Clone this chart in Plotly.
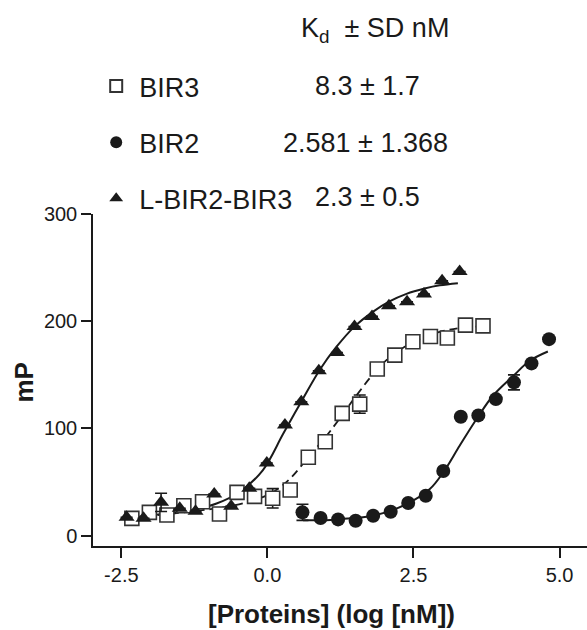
import plotly.graph_objects as go

# ---------------- data ----------------
series_names = ["BIR3", "BIR2", "L-BIR2-BIR3"]
kd_header = "K<sub>d</sub>\u00a0 ± SD nM"
kd_labels = ["8.3 ± 1.7", "2.581 ± 1.368", "2.3 ± 0.5"]

# BIR3 (open squares)
bir3_x = [-2.32, -2.02, -1.72, -1.43, -1.11, -0.82, -0.52, -0.22, 0.09, 0.39,
          0.70, 0.99, 1.28, 1.58, 1.88, 2.18, 2.49, 2.79, 3.08, 3.39, 3.69]
bir3_y = [16.2, 21.8, 19.3, 28.0, 31.7, 20.2, 40.4, 36.7, 34.9, 42.6,
          73.1, 87.6, 114.1, 122.7, 155.4, 168.4, 180.8, 185.8, 184.3, 196.4, 195.7]
bir3_err = [0, 0, 0, 0, 0, 0, 0, 0, 9, 0,
            0, 0, 0, 8.5, 0, 0, 0, 0, 0, 0, 0]

# BIR2 (filled circles)
bir2_x = [0.60, 0.91, 1.21, 1.51, 1.81, 2.11, 2.41, 2.71, 3.01, 3.31,
          3.61, 3.91, 4.22, 4.52, 4.82]
bir2_y = [21.8, 16.5, 15.2, 14.0, 18.6, 22.4, 30.5, 37.3, 60.3, 110.9,
          112.2, 127.4, 143.0, 160.7, 183.3]
bir2_err = [7.5, 0, 0, 0, 0, 0, 0, 0, 0, 0, 0, 0, 7, 0, 0]

# L-BIR2-BIR3 (filled triangles)
lbir_x = [-2.41, -2.12, -1.82, -1.50, -1.23, -0.91, -0.62, -0.31, -0.01, 0.30,
          0.58, 0.88, 1.19, 1.49, 1.79, 2.08, 2.39, 2.68, 2.99, 3.29]
lbir_y = [17.1, 16.2, 31.1, 25.5, 22.7, 38.9, 27.4, 44.2, 67.8, 103.2,
          124.9, 153.8, 170.9, 195.1, 204.5, 214.4, 218.1, 225.3, 237.7, 246.4]
lbir_err = [0, 0, 8.5, 0, 0, 0, 0, 0, 0, 0,
            0, 0, 0, 0, 0, 0, 0, 0, 0, 0]

# fitted curves
fit_bir3_x = [-2.32, -1.33, -0.76, -0.36, 0.04, 0.38, 0.72, 1.01, 1.24, 1.52,
              1.81, 2.09, 2.38, 2.66, 2.95, 3.29, 3.69]
fit_bir3_y = [16.5, 22.4, 26.5, 31.1, 38.9, 52.8, 74.6, 93.0, 109.5, 130.5,
              150.7, 166.3, 177.1, 184.9, 190.1, 193.6, 195.5]

fit_bir2_x = [0.61, 1.00, 1.24, 1.81, 2.38, 2.78, 3.01, 3.29, 3.58, 3.86,
              4.21, 4.49, 4.80]
fit_bir2_y = [14.5, 14.5, 15.5, 18.6, 29.5, 43.5, 59.1, 83.9, 108.8, 130.5,
              149.1, 163.1, 171.8]

fit_lbir_x = [-2.41, -1.90, -1.33, -0.87, -0.47, -0.08, 0.27, 0.58, 0.90, 1.18,
              1.49, 1.81, 2.09, 2.38, 2.69, 2.95, 3.26]
fit_lbir_y = [16.5, 19.5, 23.5, 30.0, 41.0, 61.0, 95.0, 125.0, 155.0, 176.0,
              195.0, 209.0, 218.5, 225.5, 230.5, 233.5, 235.5]

x_ticks = [-2.5, 0.0, 2.5, 5.0]
x_ticklabels = ["-2.5", "0.0", "2.5", "5.0"]
y_ticks = [0, 100, 200, 300]

# ---------------- figure ----------------
W, H = 587, 630
L, R, T, B = 93.3, 0, 214.3, 84
pw = W - L - R
ph = H - T - B

def px(xp):
    return (xp - L) / pw

def py(yp):
    return (H - B - yp) / ph

FONT = "Arial, Liberation Sans, Helvetica, sans-serif"
INK = "#1a1a1a"

fig = go.Figure()

# fitted lines
fig.add_trace(go.Scatter(x=fit_bir3_x, y=fit_bir3_y, mode="lines", line_shape="spline",
                         line=dict(color=INK, width=1.8, dash="8px,5px"),
                         showlegend=False, hoverinfo="skip"))
fig.add_trace(go.Scatter(x=fit_bir2_x, y=fit_bir2_y, mode="lines", line_shape="spline",
                         line=dict(color=INK, width=2), showlegend=False, hoverinfo="skip"))
fig.add_trace(go.Scatter(x=fit_lbir_x, y=fit_lbir_y, mode="lines", line_shape="spline",
                         line=dict(color=INK, width=2), showlegend=False, hoverinfo="skip"))

def err(a):
    return dict(type="data", array=a, visible=True, color=INK, thickness=1.6, width=6)

fig.add_trace(go.Scatter(x=bir3_x, y=bir3_y, mode="markers", name=series_names[0],
                         legendgroup="g1", error_y=err(bir3_err),
                         marker=dict(symbol="square", size=14, color="white",
                                     line=dict(color="#333333", width=1.6))))
fig.add_trace(go.Scatter(x=bir2_x, y=bir2_y, mode="markers", name=series_names[1],
                         legendgroup="g2", error_y=err(bir2_err),
                         marker=dict(symbol="circle", size=14, color=INK,
                                     line=dict(width=0))))
fig.add_trace(go.Scatter(x=lbir_x, y=lbir_y, mode="markers", name=series_names[2],
                         legendgroup="g3", error_y=err(lbir_err),
                         marker=dict(symbol="triangle-up", size=14, color=INK,
                                     line=dict(width=0))))

annotations = [
    dict(text=kd_header, x=px(299), y=py(30), xanchor="left", yanchor="middle",
         font=dict(size=27, color=INK, family=FONT)),
    dict(text=kd_labels[0], x=px(313), y=py(86.5), xanchor="left", yanchor="middle",
         font=dict(size=27, color=INK, family=FONT)),
    dict(text=kd_labels[1], x=px(281.5), y=py(143), xanchor="left", yanchor="middle",
         font=dict(size=27, color=INK, family=FONT)),
    dict(text=kd_labels[2], x=px(313), y=py(197.5), xanchor="left", yanchor="middle",
         font=dict(size=27, color=INK, family=FONT)),
    dict(text="<b>[Proteins] (log [nM])</b>", x=px(332), y=py(614), xanchor="center",
         yanchor="middle", font=dict(size=26, color=INK, family=FONT)),
    dict(text="<b>mP</b>", x=px(24), y=py(383), xanchor="center", yanchor="middle",
         textangle=-90, font=dict(size=26, color=INK, family=FONT)),
]
for a in annotations:
    a.update(xref="paper", yref="paper", showarrow=False)

fig.update_layout(
    width=W, height=H,
    margin=dict(l=L, r=R, t=T, b=B, pad=0),
    paper_bgcolor="white", plot_bgcolor="white",
    font=dict(family=FONT, color=INK),
    annotations=annotations,
    showlegend=True,
    legend=dict(x=px(93.5), y=py(62.5), xanchor="left", yanchor="top",
                traceorder="grouped", tracegroupgap=18, itemsizing="constant",
                itemwidth=36,
                font=dict(size=27, color=INK, family=FONT),
                bgcolor="rgba(0,0,0,0)", borderwidth=0),
    xaxis=dict(range=[-2.985, 5.47], tickvals=x_ticks, ticktext=x_ticklabels,
               showline=True, linecolor=INK, linewidth=1.5, ticks="outside",
               ticklen=10, tickwidth=1.5, tickcolor=INK, showgrid=False, zeroline=False,
               tickfont=dict(size=20, color=INK, family=FONT)),
    yaxis=dict(range=[-9.6, 300], tickvals=y_ticks,
               showline=True, linecolor=INK, linewidth=1.5, ticks="outside",
               ticklen=10, tickwidth=1.5, tickcolor=INK, showgrid=False, zeroline=False,
               tickfont=dict(size=20, color=INK, family=FONT)),
)

fig.write_html("out.html", config={"displayModeBar": False},
               post_script="document.body.style.margin='0px';")
